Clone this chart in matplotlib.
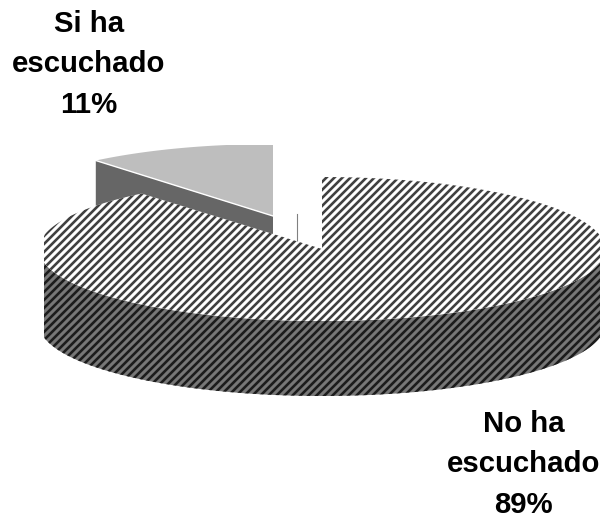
import numpy as np
import matplotlib; matplotlib.use("Agg")
import matplotlib.pyplot as plt
from matplotlib.patches import Polygon
from matplotlib.collections import LineCollection

# data
labels = ["No ha\nescuchado", "Si ha\nescuchado"]
shares = [89, 11]

W, H = 603, 515
CX, CY = 322, 249      # centre of the big slice, pixels from top left
A, B = 283, 72         # ellipse radii
A_SMALL = 278
DEPTH = 75
TIP = (273, 216)       # exploded slice tip
X_MIN, X_MAX = 44, 600 # the big slice is cut flat at both ends
TOP_MIN = 145          # same for the top of the small slice
PERIOD = 8.0           # stripe spacing along x, pixels
PX = 72 / 100          # one pixel in points at dpi 100

fig = plt.figure(figsize=(W / 100, H / 100), dpi=100)
fig.patch.set_facecolor("#FFFFFF")
ax = fig.add_axes([0, 0, 1, 1])
ax.set_xlim(0, W); ax.set_ylim(H, 0)
ax.axis("off")


def rim(cx, cy, a, b, t0, t1, n=200):
    # t is measured clockwise from 12 o'clock
    t = np.radians(np.linspace(t0, t1, n))
    return np.column_stack([cx + a * np.sin(t), cy - b * np.cos(t)])


def striped(verts, back, stripe, width, zorder):
    # plain polygon plus diagonal lines clipped to it
    poly = Polygon(verts, closed=True, fc=back, ec="none", zorder=zorder)
    ax.add_patch(poly)
    segs = [[(k, H), (k + H, 0)] for k in np.arange(-H, W + PERIOD, PERIOD)]
    lc = LineCollection(segs, colors=stripe, linewidths=width * PX, zorder=zorder)
    ax.add_collection(lc)
    lc.set_clip_path(poly)


big_end = 360 * shares[0] / sum(shares)

# exploded small slice, cut face first and the top over it
edge = rim(TIP[0], TIP[1], A_SMALL, B, big_end, big_end)[0]
face = [edge, TIP, (TIP[0], TIP[1] + DEPTH), (edge[0], edge[1] + DEPTH)]
ax.add_patch(Polygon(face, closed=True, fc="#666666", ec="none", zorder=1))
top_small = np.vstack([[TIP], rim(TIP[0], TIP[1], A_SMALL, B, big_end, 360)])
top_small[:, 1] = np.maximum(top_small[:, 1], TOP_MIN)
ax.add_patch(Polygon(top_small, closed=True, fc="#BEBEBE", ec="none", zorder=2))
ax.plot([edge[0], TIP[0]], [edge[1], TIP[1]], color="#FFFFFF", lw=1.0, zorder=3)
ax.plot([297, 297], [214, 241], color="#808080", lw=0.8, zorder=1)

# big slice, wall first
front_top = rim(CX, CY, A, B, 90, 270)
front_low = rim(CX, CY + DEPTH, A, B, 270, 90)
wall = np.vstack([front_top, front_low])
wall[:, 0] = np.clip(wall[:, 0], X_MIN, X_MAX)
striped(wall, "#777777", "#1C1C1C", 2.6, 4)

top_big = np.vstack([[(CX, CY)], rim(CX, CY, A, B, 0, big_end)])
top_big[:, 0] = np.clip(top_big[:, 0], X_MIN, X_MAX)
striped(top_big, "#FFFFFF", "#404040", 2.6, 5)

# labels
font = dict(family="Liberation Sans", weight="bold", size=21.2, color="#000000",
            ha="center", va="baseline", zorder=6)
for name, share, x, y0 in zip(labels, shares, [523.5, 89], [432, 32]):
    lines = name.split("\n") + [f"{share}%"]
    for i, s in enumerate(lines):
        ax.text(x, y0 + i * 40.5, s, **font)

fig.savefig("out.png", dpi=100, facecolor="#FFFFFF")
plt.close(fig)
